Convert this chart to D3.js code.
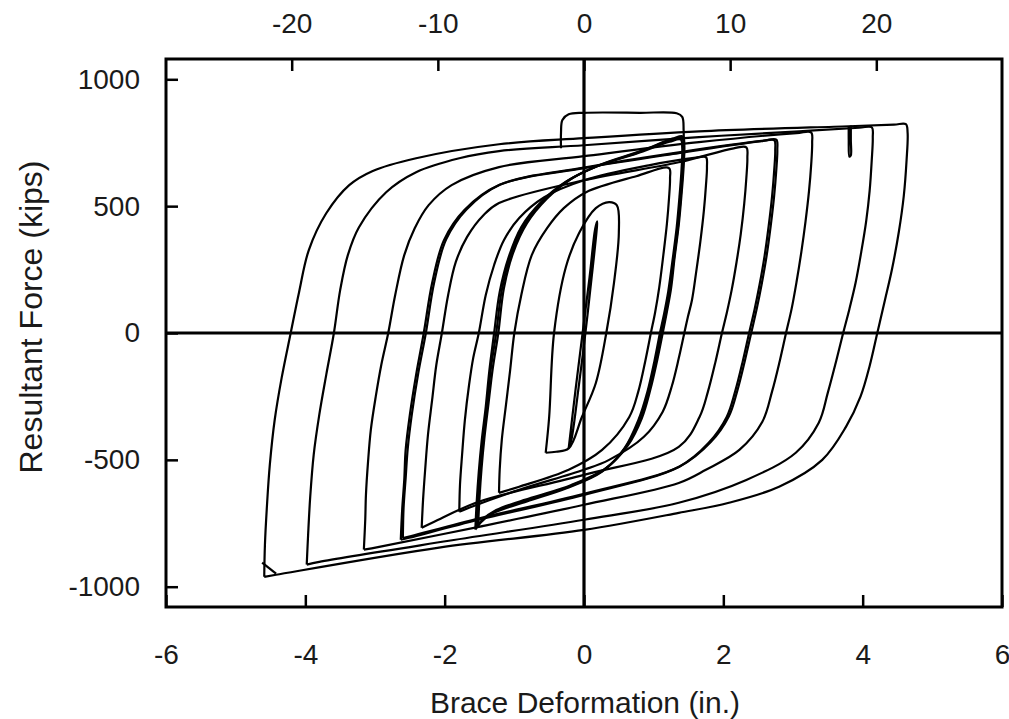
<!DOCTYPE html>
<html>
<head>
<meta charset="utf-8">
<script src="https://cdn.jsdelivr.net/npm/d3@7"></script>
<style>
  body { margin: 0; background: #fff; }
  svg text { font-family: "Liberation Sans", Arial, sans-serif; fill: #1a1a1a; }
</style>
</head>
<body>
<script>
// tick labels
const bottomTicks = [-6, -4, -2, 0, 2, 4, 6];
const topTicks = [-20, -10, 0, 10, 20];
const yTicks = [-1000, -500, 0, 500, 1000];

// hysteresis cycles: [deformation (in.), force (kips)]
const cycle1 = [[-0.22,-455],[-0.12,-220],[-0.02,0],[0.08,220],[0.16,410],[0.19,440],[0.18,400],[0.11,220],[0.02,0],[-0.08,-220],[-0.18,-420],[-0.22,-455]];
const cycle2 = [[-0.55,-472],[-0.50,-331],[-0.43,0],[-0.26,260],[-0.07,394],[0.17,492],[0.36,516],[0.47,504],[0.50,394],[0.43,197],[0.32,0],[0.17,-197],[-0.03,-331],[-0.22,-455],[-0.40,-468],[-0.55,-472]];
const cycle3 = [[-1.22,-630],[-1.21,-539],[-1.18,-421],[-1.12,-283],[-1.06,-146],[-1.0,0],[-0.90,150],[-0.75,307],[-0.53,413],[-0.29,492],[0.03,555],[0.75,618],[1.22,650],[1.235,610],[1.22,530],[1.19,430],[1.14,310],[1.08,180],[1.02,80],[0.96,0],[0.88,-110],[0.78,-230],[0.65,-331],[0.26,-461],[-0.22,-539],[-0.93,-606],[-1.22,-630]];
const cycle4a = [[-1.54,-768],[-1.52,-657],[-1.49,-539],[-1.45,-421],[-1.39,-283],[-1.34,-146],[-1.26,0],[-1.18,169],[-1.05,307],[-0.86,425],[-0.57,524],[-0.22,602],[0.22,661],[0.79,713],[1.25,760],[1.41,768],[1.43,735],[1.42,650],[1.39,540],[1.35,420],[1.29,290],[1.23,170],[1.17,80],[1.11,0],[1.03,-110],[0.93,-230],[0.80,-340],[0.60,-449],[0.29,-539],[-0.22,-606],[-0.79,-657],[-1.29,-705],[-1.48,-744],[-1.54,-768]];
const cycle4b = [[-1.56,-775],[-1.54,-664],[-1.51,-546],[-1.47,-428],[-1.41,-290],[-1.36,-152],[-1.29,0],[-1.21,162],[-1.08,300],[-0.90,418],[-0.61,518],[-0.26,596],[0.18,656],[0.76,708],[1.23,754],[1.39,762],[1.41,730],[1.40,645],[1.37,535],[1.33,415],[1.27,285],[1.21,165],[1.15,76],[1.09,0],[1.01,-112],[0.91,-232],[0.78,-344],[0.58,-455],[0.26,-546],[-0.25,-612],[-0.82,-664],[-1.32,-712],[-1.50,-752],[-1.56,-775]];
const cycle4c = [[-1.52,-760],[-1.50,-650],[-1.47,-532],[-1.43,-414],[-1.37,-276],[-1.31,-140],[-1.23,0],[-1.15,176],[-1.02,314],[-0.82,432],[-0.53,530],[-0.18,608],[0.26,666],[0.82,718],[1.27,766],[1.42,775],[1.44,742],[1.43,656],[1.40,546],[1.36,426],[1.30,296],[1.25,176],[1.19,84],[1.13,0],[1.05,-108],[0.95,-226],[0.83,-336],[0.63,-443],[0.32,-532],[-0.19,-600],[-0.76,-650],[-1.26,-698],[-1.46,-737],[-1.52,-760]];
const cycle5 = [[-1.79,-705],[-1.78,-598],[-1.75,-480],[-1.71,-343],[-1.65,-205],[-1.59,-98],[-1.51,0],[-1.41,150],[-1.29,268],[-1.15,366],[-0.93,453],[-0.57,535],[0,602],[0.93,661],[1.58,690],[1.75,693],[1.765,655],[1.75,580],[1.72,480],[1.67,360],[1.61,240],[1.55,130],[1.49,62],[1.44,0],[1.36,-100],[1.26,-210],[1.13,-310],[0.86,-409],[0.36,-500],[0,-539],[-0.93,-618],[-1.65,-689],[-1.79,-705]];
const cycle6 = [[-2.33,-768],[-2.31,-657],[-2.28,-539],[-2.24,-402],[-2.18,-264],[-2.12,-126],[-2.04,0],[-1.95,150],[-1.84,280],[-1.68,378],[-1.44,465],[-1.22,512],[0,602],[1.36,673],[2.15,728],[2.33,732],[2.345,690],[2.33,610],[2.30,510],[2.25,390],[2.19,280],[2.12,170],[2.05,80],[1.98,0],[1.89,-110],[1.78,-230],[1.66,-330],[1.36,-449],[0,-559],[-1.51,-665],[-2.15,-744],[-2.33,-768]];
const cycle7a = [[-2.63,-815],[-2.61,-697],[-2.58,-579],[-2.56,-461],[-2.50,-323],[-2.41,-165],[-2.30,0],[-2.18,197],[-2.01,366],[-1.72,484],[-1.22,583],[0,650],[1.36,709],[2.55,756],[2.73,760],[2.745,720],[2.73,640],[2.70,540],[2.65,420],[2.59,300],[2.52,190],[2.45,95],[2.37,0],[2.28,-110],[2.17,-230],[2.05,-330],[1.79,-433],[1.36,-528],[0,-638],[-1.51,-736],[-2.51,-807],[-2.63,-815]];
const cycle7b = [[-2.60,-808],[-2.59,-690],[-2.56,-572],[-2.53,-455],[-2.47,-318],[-2.38,-160],[-2.27,0],[-2.15,200],[-1.98,368],[-1.69,486],[-1.20,585],[0,652],[1.36,712],[2.58,758],[2.76,762],[2.775,722],[2.76,642],[2.73,542],[2.68,422],[2.62,302],[2.55,192],[2.48,96],[2.40,0],[2.31,-108],[2.20,-228],[2.08,-328],[1.82,-430],[1.38,-525],[0,-634],[-1.50,-730],[-2.48,-800],[-2.60,-808]];
const cycle8 = [[-3.16,-854],[-3.14,-736],[-3.13,-638],[-3.10,-508],[-3.06,-382],[-2.99,-252],[-2.91,-126],[-2.81,0],[-2.71,150],[-2.58,307],[-2.43,413],[-2.23,504],[-1.90,583],[-1.22,654],[0,697],[1.65,752],[3.05,788],[3.26,791],[3.275,750],[3.26,660],[3.23,560],[3.18,440],[3.12,320],[3.05,200],[2.98,95],[2.90,0],[2.81,-110],[2.70,-230],[2.56,-350],[2.23,-461],[1.75,-539],[1.36,-591],[0,-677],[-1.51,-764],[-2.94,-843],[-3.16,-854]];
const cycle9 = [[-3.98,-913],[-3.96,-795],[-3.93,-646],[-3.88,-480],[-3.80,-323],[-3.70,-165],[-3.59,0],[-3.50,169],[-3.39,307],[-3.23,417],[-2.84,555],[-2.41,634],[-1.79,689],[-1.22,717],[0,740],[1.65,772],[3.09,795],[3.95,809],[4.13,811],[4.145,770],[4.13,680],[4.10,560],[4.05,440],[3.98,320],[3.90,200],[3.81,95],[3.72,0],[3.62,-110],[3.50,-235],[3.37,-354],[3.04,-472],[2.33,-579],[1.36,-669],[0,-736],[-1.94,-819],[-3.80,-902],[-3.98,-913]];
const cycle10 = [[-4.59,-961],[-4.58,-835],[-4.55,-677],[-4.51,-520],[-4.44,-343],[-4.34,-177],[-4.21,0],[-4.09,161],[-3.95,327],[-3.70,472],[-3.37,583],[-3.04,638],[-2.41,689],[-1.22,744],[0,768],[1.65,795],[3.80,815],[4.45,821],[4.62,823],[4.645,790],[4.63,680],[4.59,540],[4.52,400],[4.42,250],[4.32,130],[4.21,0],[4.10,-130],[3.97,-250],[3.76,-370],[3.42,-500],[2.80,-606],[2.08,-669],[1.36,-709],[0,-776],[-2.08,-846],[-4.42,-953],[-4.59,-961]];
const flag = [[-0.33,728],[-0.33,790],[-0.31,840],[-0.22,862],[0.0,868],[0.8,868],[1.33,866],[1.41,852],[1.43,800],[1.43,740]];
const spike = [[3.80,816],[3.80,760],[3.81,695],[3.83,700],[3.83,760],[3.83,818]];
const cornerTick = [[-4.62,-905],[-4.42,-948]];

const cycles = [cycle1, cycle2, cycle3, cycle4a, cycle4b, cycle4c, cycle5, cycle6, cycle7a, cycle7b, cycle8, cycle9, cycle10, flag, spike, cornerTick];

const w = 1009;
const h = 719;
const plotLeft = 166, plotRight = 1002, plotTop = 59, plotBottom = 607;

const svg = d3.select('body')
              .append('svg')
              .attr('width', w)
              .attr('height', h);

const xScale = d3.scaleLinear()
                 .domain([-6, 6])
                 .range([plotLeft, plotRight]);

const topScale = d3.scaleLinear()
                   .domain([-28.6, 28.6])
                   .range([plotLeft, plotRight]);

const yScale = d3.scaleLinear()
               .domain([-1080, 1080])
               .range([plotBottom, plotTop]);

// hysteresis curves
const line = d3.line()
               .x(d => xScale(d[0]))
               .y(d => yScale(d[1]))
               .curve(d3.curveCatmullRom.alpha(0.5));

svg.append('g')
   .selectAll('path')
   .data(cycles)
   .enter()
   .append('path')
   .attr('d', line)
   .attr('fill', 'none')
   .attr('stroke', '#000')
   .attr('stroke-width', 2.2)
   .attr('stroke-linejoin', 'round');

// zero lines
svg.append('line')
   .attr('x1', xScale(0)).attr('x2', xScale(0))
   .attr('y1', plotTop).attr('y2', plotBottom)
   .attr('stroke', '#000').attr('stroke-width', 3.2);
svg.append('line')
   .attr('x1', plotLeft).attr('x2', plotRight)
   .attr('y1', yScale(0)).attr('y2', yScale(0))
   .attr('stroke', '#000').attr('stroke-width', 3.2);

// axes with inward ticks
const styleAxis = g => {
  g.select('.domain').remove();
  g.selectAll('.tick line').attr('stroke', '#000').attr('stroke-width', 2.5);
  g.selectAll('.tick text').attr('font-size', 28).attr('fill', '#1a1a1a');
};

svg.append('g')
   .attr('transform', 'translate(0,' + plotBottom + ')')
   .call(d3.axisBottom(xScale).tickValues(bottomTicks).tickSize(-12).tickPadding(37).tickFormat(d => String(d)))
   .call(styleAxis);

svg.append('g')
   .attr('transform', 'translate(0,' + plotTop + ')')
   .call(d3.axisTop(topScale).tickValues(topTicks).tickSize(-12).tickPadding(26).tickFormat(d => String(d)))
   .call(styleAxis);

svg.append('g')
   .attr('transform', 'translate(' + plotLeft + ',0)')
   .call(d3.axisLeft(yScale).tickValues(yTicks).tickSize(-12).tickPadding(26).tickFormat(d => String(d)))
   .call(styleAxis);

// plot frame
svg.append('rect')
   .attr('x', plotLeft).attr('y', plotTop)
   .attr('width', plotRight - plotLeft).attr('height', plotBottom - plotTop)
   .attr('fill', 'none')
   .attr('stroke', '#000')
   .attr('stroke-width', 3);

// axis titles
svg.append('text')
   .attr('x', 585)
   .attr('y', 713)
   .attr('text-anchor', 'middle')
   .attr('font-size', 30)
   .text('Brace Deformation (in.)');

svg.append('text')
   .attr('transform', 'rotate(-90)')
   .attr('x', -317)
   .attr('y', 42)
   .attr('text-anchor', 'middle')
   .attr('font-size', 32)
   .text('Resultant Force (kips)');
</script>
</body>
</html>
